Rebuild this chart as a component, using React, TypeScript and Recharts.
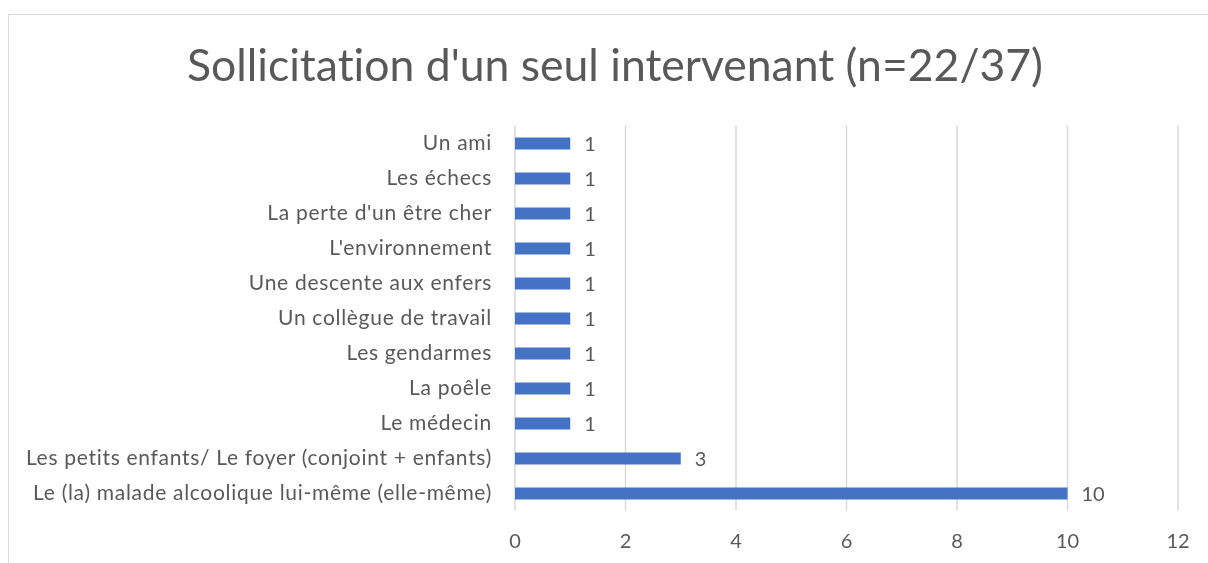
import { BarChart, Bar, XAxis, YAxis, CartesianGrid, LabelList } from 'recharts'

const categories = [
  'Un ami',
  'Les échecs',
  "La perte d'un être cher",
  "L'environnement",
  'Une descente aux enfers',
  'Un collègue de travail',
  'Les gendarmes',
  'La poêle',
  'Le médecin',
  'Les petits enfants/ Le foyer (conjoint + enfants)',
  'Le (la) malade alcoolique lui-même (elle-même)',
]
const counts = [1, 1, 1, 1, 1, 1, 1, 1, 1, 3, 10]
const xTicks = [0, 2, 4, 6, 8, 10, 12]
const title = "Sollicitation d'un seul intervenant (n=22/37)"

const FONT = 'Lato, sans-serif'
const TEXT = '#595959'

export default function App() {
  const data = categories.map((name, i) => ({ name, value: counts[i] }))

  return (
    <div style={{ position: 'relative', width: 1200, height: 547, overflow: 'hidden', fontFamily: FONT }}>
      {/* chart frame, runs off the page on the right and bottom */}
      <div
        style={{
          position: 'fixed',
          left: 8,
          top: 14,
          width: 2000,
          height: 2000,
          borderTop: '1px solid #d9d9d9',
          borderLeft: '1px solid #d9d9d9',
          pointerEvents: 'none',
        }}
      />
      <svg width={1200} height={100} style={{ position: 'absolute', left: 0, top: 0 }}>
        <text
          x={607}
          y={73}
          textAnchor="middle"
          fontSize={44.5}
          fill={TEXT}
          fontFamily={FONT}
          style={{ fontVariantLigatures: 'none' }}
        >
          {title}
        </text>
      </svg>
      <div style={{ position: 'absolute', left: 0, top: 0 }}>
        <BarChart
          width={1200}
          height={547}
          data={data}
          layout="vertical"
          margin={{ top: 117.5, right: 30, bottom: 14.5, left: 0 }}
          barSize={12}
        >
          <CartesianGrid horizontal={false} stroke="#d9d9d9" strokeWidth={1.5} />
          <XAxis
            type="number"
            domain={[0, 12]}
            ticks={xTicks}
            axisLine={false}
            tickLine={false}
            tickMargin={17}
            height={30}
            tick={{ fontSize: 20, fill: TEXT, fontFamily: FONT }}
          />
          <YAxis
            type="category"
            dataKey="name"
            width={507}
            axisLine={false}
            tickLine={false}
            tickMargin={17}
            interval={0}
            tick={{ fontSize: 21, fill: TEXT, fontFamily: FONT, letterSpacing: 0.7 }}
          />
          <Bar dataKey="value" fill="#4472c4" isAnimationActive={false}>
            <LabelList dataKey="value" position="right" offset={14} fill={TEXT} fontSize={20} fontFamily={FONT} />
          </Bar>
        </BarChart>
      </div>
    </div>
  )
}
